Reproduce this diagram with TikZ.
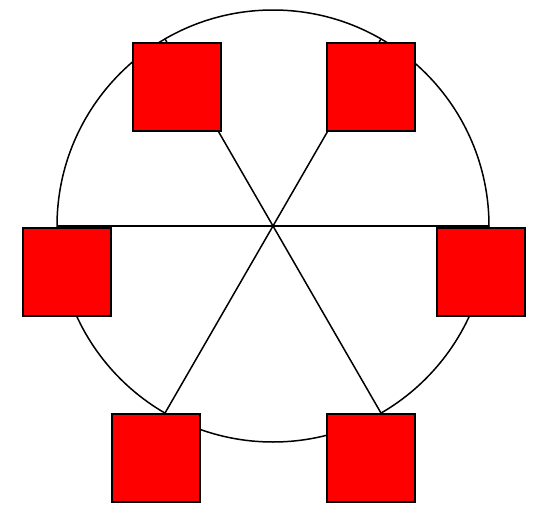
\documentclass[tikz,border=0pt]{standalone}
\usetikzlibrary{calc}
\begin{document}
\begin{tikzpicture}[x=1pt,y=-1pt,
  sq/.style={draw=black,fill=red,line width=1.5pt,minimum size=88pt,inner sep=0pt,anchor=north west},
  ln/.style={line width=1.5pt}]
\useasboundingbox (0,0) rectangle (541,525);
\coordinate (c) at (273,226);
\draw[ln] (c) circle (216);
\foreach \a/\n in {0/p0,60/p60,120/p120,180/p180,240/p240,300/p300}{
  \coordinate (\n) at ($(c)+(\a:216 and -216)$);
}
\draw[ln] (c) -- (p0);
\draw[ln] (c) -- (p60);
\draw[ln] (c) -- (p120);
\draw[ln] (c) -- (p180);
\draw[ln] (c) -- (p240);
\draw[ln] (c) -- (p300);
\node[sq] (s120) at (132,42) {};
\node[sq] (s60) at (326,42) {};
\node[sq] (s180) at (22,227) {};
\node[sq] (s0) at (436,227) {};
\node[sq] (s240) at (111,413) {};
\node[sq] (s300) at (326,413) {};
\end{tikzpicture}
\end{document}
